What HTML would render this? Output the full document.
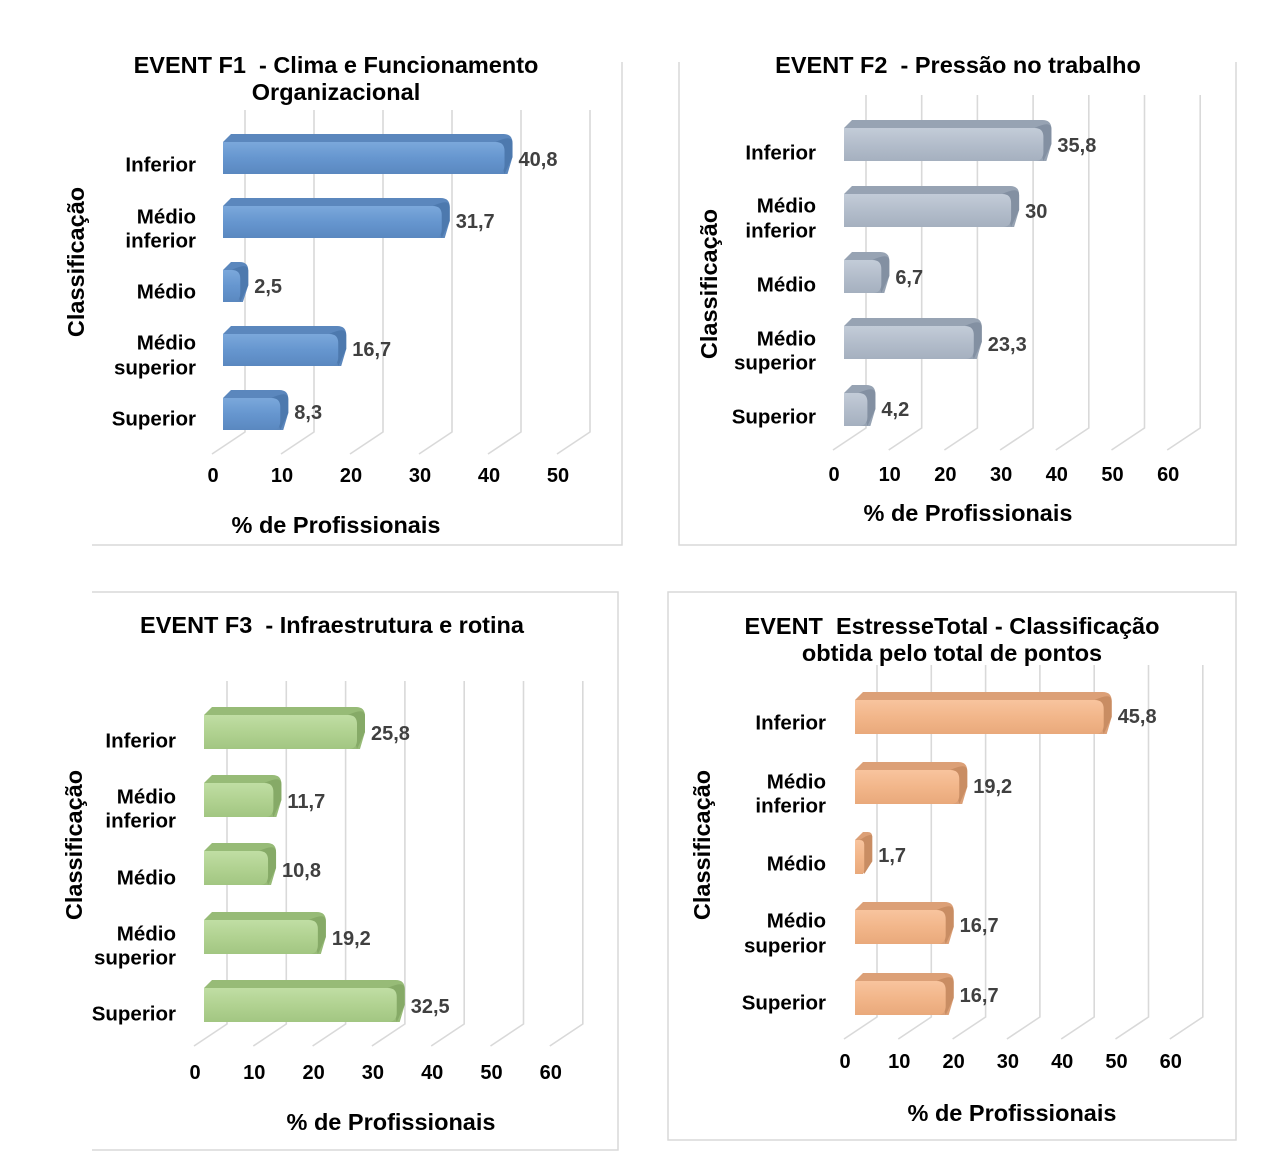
<!DOCTYPE html>
<html><head><meta charset="utf-8"><style>
html,body{margin:0;padding:0;background:#fff;}
svg{display:block;font-family:"Liberation Sans",Arial,sans-serif;font-weight:bold;}
</style></head><body>
<svg id="chart" width="1278" height="1174" viewBox="0 0 1278 1174" xmlns="http://www.w3.org/2000/svg">
<defs>
<linearGradient id="gblue" x1="0" y1="0" x2="0" y2="1"><stop offset="0" stop-color="#7ba8db"/><stop offset="0.5" stop-color="#6696cf"/><stop offset="1" stop-color="#5a88c0"/></linearGradient>
<linearGradient id="ggray" x1="0" y1="0" x2="0" y2="1"><stop offset="0" stop-color="#c3ccd8"/><stop offset="0.5" stop-color="#b3bdcb"/><stop offset="1" stop-color="#a5b0bf"/></linearGradient>
<linearGradient id="ggreen" x1="0" y1="0" x2="0" y2="1"><stop offset="0" stop-color="#c0dea4"/><stop offset="0.5" stop-color="#b1d291"/><stop offset="1" stop-color="#a2c682"/></linearGradient>
<linearGradient id="gorange" x1="0" y1="0" x2="0" y2="1"><stop offset="0" stop-color="#f8c49e"/><stop offset="0.5" stop-color="#f2b68a"/><stop offset="1" stop-color="#e9a97b"/></linearGradient>
</defs>
<g stroke="#d9d9d9" stroke-width="1.5" fill="none">
<path d="M622 62 V545 H92"/>
<path d="M679 62 V545 H1236 V62"/>
<path d="M92 592 H618 V1150 H92"/>
<rect x="668" y="592" width="568" height="548"/>
</g>
<g id="layer"></g>
</svg>
<script>
// Data
const categories = ["Inferior","Médio inferior","Médio","Médio superior","Superior"];
const f1Values = [40.8, 31.7, 2.5, 16.7, 8.3];
const f2Values = [35.8, 30, 6.7, 23.3, 4.2];
const f3Values = [25.8, 11.7, 10.8, 19.2, 32.5];
const totalValues = [45.8, 19.2, 1.7, 16.7, 16.7];
const f1Ticks = [0,10,20,30,40,50];
const f2Ticks = [0,10,20,30,40,50,60];
const f3Ticks = [0,10,20,30,40,50,60];
const totalTicks = [0,10,20,30,40,50,60];
const f1Labels = ["40,8","31,7","2,5","16,7","8,3"];
const f2Labels = ["35,8","30","6,7","23,3","4,2"];
const f3Labels = ["25,8","11,7","10,8","19,2","32,5"];
const totalLabels = ["45,8","19,2","1,7","16,7","16,7"];

const NS = "http://www.w3.org/2000/svg";
const layer = document.getElementById('layer');
function mk(tag, attrs, parent){
  const e = document.createElementNS(NS, tag);
  for (const k in attrs) e.setAttribute(k, attrs[k]);
  (parent||layer).appendChild(e);
  return e;
}
function txt(s, x, y, size, anchor, fill, parent){
  const t = mk('text', {x:x, y:y, 'font-size':size, 'text-anchor':anchor||'middle', fill:fill||'#000', 'dominant-baseline':'central'}, parent);
  t.textContent = s;
  return t;
}

const panels = [
  {id:'f1', vals:f1Values, labels:f1Labels, ticks:f1Ticks, x0:223, unit:6.9, gridOff:22, gTop:110, gBot:432,
   barTops:[134,198,262,326,390], barH:40, fill:'url(#gblue)', dark:'#4d79ae', top:'#5b87bd',
   catX:196, catY:[[165],[217,241],[292],[343,368],[419]], valY:[160,222,287,350,413], tickY:476,
   title:[["EVENT F1  - Clima e Funcionamento",336,65],["Organizacional",336,92]], axisT:[336,525], yT:[76,262]},
  {id:'f2', vals:f2Values, labels:f2Labels, ticks:f2Ticks, x0:844, unit:5.57, gridOff:22, gTop:95, gBot:428,
   barTops:[120,186,252,318,385], barH:41, fill:'url(#ggray)', dark:'#8390a2', top:'#97a3b3',
   catX:816, catY:[[153],[206,231],[285],[339,363],[417]], valY:[146,212,278,345,410], tickY:475,
   title:[["EVENT F2  - Pressão no trabalho",958,65]], axisT:[968,513], yT:[709,284]},
  {id:'f3', vals:f3Values, labels:f3Labels, ticks:f3Ticks, x0:204, unit:5.93, gridOff:23, gTop:681, gBot:1024,
   barTops:[707,775,843,912,980], barH:42, fill:'url(#ggreen)', dark:'#86aa67', top:'#97bb77',
   catX:176, catY:[[741],[797,821],[878],[934,958],[1014]], valY:[734,802,871,939,1007], tickY:1073,
   title:[["EVENT F3  - Infraestrutura e rotina",332,625]], axisT:[391,1122], yT:[74,845]},
  {id:'total', vals:totalValues, labels:totalLabels, ticks:totalTicks, x0:855, unit:5.43, gridOff:22, gTop:665, gBot:1017,
   barTops:[692,762,832,902,973], barH:42, fill:'url(#gorange)', dark:'#c98d63', top:'#dca077',
   catX:826, catY:[[723],[782,806],[864],[921,946],[1003]], valY:[717,787,856,926,996], tickY:1062,
   title:[["EVENT  EstresseTotal - Classificação",952,626],["obtida pelo total de pontos",952,653]], axisT:[1012,1113], yT:[702,845]}
];

function xScale(p, v){ return p.x0 + v * p.unit; }

panels.forEach(p => {
  const g = mk('g', {});
  
  
  p.ticks.forEach(t => {
    const gx = xScale(p, t) + p.gridOff;
    const l = mk('path', {d:`M${gx} ${p.gTop} V${p.gBot} L${gx-33} ${p.gBot+22}`, stroke:'#d9d9d9', 'stroke-width':1.6, fill:'none'}, g);
    
    
    const tl = txt(String(t), gx - 32, p.tickY, 20, 'middle', '#000', g);
    
    
  });
  p.vals.forEach((v, i) => {
    const y = p.barTops[i], h = p.barH, d = 8;
    const xe = xScale(p, v);
    const w = Math.max(xe - p.x0, 4);
    const bg = mk('g', {}, g);
    
    
    const r = Math.min(9, w/2);
    mk('path', {d:`M${p.x0} ${y+d} L${p.x0+d} ${y} H${p.x0+w+d-r} Q${p.x0+w+d} ${y} ${p.x0+w+d} ${y+r} V${y+h-d-r} L${p.x0+w+r-6} ${y+h} H${p.x0} Z`, fill:p.top}, bg);
    mk('path', {d:`M${p.x0+w-r} ${y+d} Q${p.x0+w+d} ${y} ${p.x0+w+d} ${y+r} V${y+h-d-r} L${p.x0+w} ${y+h} Z`, fill:p.dark}, bg);
    mk('path', {d:`M${p.x0} ${y+d} H${p.x0+w-r} Q${p.x0+w} ${y+d} ${p.x0+w} ${y+d+r} V${y+h-r} Q${p.x0+w} ${y+h} ${p.x0+w-r} ${y+h} H${p.x0} Z`, fill:p.fill}, bg);
    const vl = txt(p.labels[i], xe + d + 6, p.valY[i], 20, 'start', '#404040', g);
    
    
    const words = categories[i].split(' ');
    words.forEach((w2, k) => {
      const cl = txt(w2, p.catX, p.catY[i][k], 20.5, 'end', '#000', g);
      
      
    });
  });
  p.title.forEach(t => {
    const tt = txt(t[0], t[1], t[2], 23.5, 'middle', '#000', g);
    
    
    tt.style.whiteSpace = 'pre';
  });
  const at = txt('% de Profissionais', p.axisT[0], p.axisT[1], 23.5, 'middle', '#000', g);
  
  
  const yt = txt('Classificação', 0, 0, 23.5, 'middle', '#000', g);
  yt.setAttribute('transform', `translate(${p.yT[0]},${p.yT[1]}) rotate(-90)`);
  
  
});
</script>
</body></html>
